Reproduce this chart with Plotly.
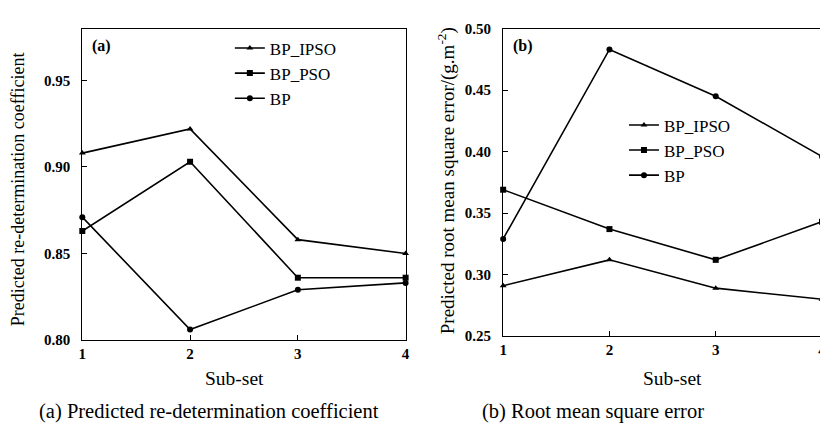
import plotly.graph_objects as go

subsets = [1, 2, 3, 4]

# Panel (a): predicted re-determination coefficient
r2_ipso = [0.908, 0.922, 0.858, 0.850]
r2_pso = [0.863, 0.903, 0.836, 0.836]
r2_bp = [0.871, 0.806, 0.829, 0.833]

# Panel (b): root mean square error
rmse_ipso = [0.291, 0.312, 0.289, 0.280]
rmse_pso = [0.369, 0.337, 0.312, 0.343]
rmse_bp = [0.329, 0.483, 0.445, 0.396]

series_names = ["BP_IPSO", "BP_PSO", "BP"]
symbols = ["triangle-up", "square", "circle"]

left_ticks = [0.80, 0.85, 0.90, 0.95]
right_ticks = [0.25, 0.30, 0.35, 0.40, 0.45, 0.50]

# the page shows the figure shifted 8px to the right
XOFF = 8
W, H = 828 - XOFF, 424
FONT = "Liberation Serif, 'Times New Roman', Times, serif"


def px(x):
    return (x - XOFF) / W


def py(y):
    return 1 - y / H


fig = go.Figure()

for name, sym, vals in zip(series_names, symbols, [r2_ipso, r2_pso, r2_bp]):
    fig.add_trace(go.Scatter(
        x=subsets, y=vals, name=name, mode="lines+markers",
        line=dict(color="black", width=1.6),
        marker=dict(symbol=sym, size=6, color="black"),
        cliponaxis=False, xaxis="x", yaxis="y", legend="legend",
    ))

for name, sym, vals in zip(series_names, symbols, [rmse_ipso, rmse_pso, rmse_bp]):
    fig.add_trace(go.Scatter(
        x=subsets, y=vals, name=name, mode="lines+markers",
        line=dict(color="black", width=1.6),
        marker=dict(symbol=sym, size=6, color="black"),
        cliponaxis=False, xaxis="x2", yaxis="y2", legend="legend2",
    ))

tickfont = dict(family=FONT, size=15, color="black", weight="bold")
axis_common = dict(
    showline=True, mirror=True, linecolor="black", linewidth=1.2,
    ticks="inside", ticklen=5, tickcolor="black", showgrid=False,
    zeroline=False, tickfont=tickfont,
)

legend_font = dict(family=FONT, size=17, color="black")

fig.update_layout(
    width=W, height=H,
    margin=dict(l=0, r=0, t=0, b=0),
    paper_bgcolor="white", plot_bgcolor="white",
    font=dict(family=FONT, color="black"),
    xaxis=dict(domain=[px(79), px(405.5)], range=[1, 4], tickvals=subsets,
               anchor="y", **axis_common),
    yaxis=dict(domain=[py(336.7), py(13)], range=[0.80, 0.98],
               tickvals=left_ticks, tickformat=".2f", anchor="x",
               ticklabelstandoff=8, **axis_common),
    xaxis2=dict(domain=[px(504), px(826)], range=[1, 4], tickvals=subsets,
                anchor="y2", **axis_common),
    yaxis2=dict(domain=[py(332.7), py(13)], range=[0.25, 0.50],
                tickvals=right_ticks, tickformat=".2f", anchor="x2",
                ticklabelstandoff=8, **axis_common),
    legend=dict(x=px(228), y=py(15), xanchor="left", yanchor="top",
                bgcolor="rgba(0,0,0,0)", font=legend_font,
                tracegroupgap=0, itemwidth=30),
    legend2=dict(x=px(626), y=py(95), xanchor="left", yanchor="top",
                 bgcolor="rgba(0,0,0,0)", font=legend_font,
                 tracegroupgap=0, itemwidth=30),
    showlegend=True,
)

annotations = [
    dict(text="<b>(a)</b>", x=px(87), y=py(31), xanchor="left", yanchor="middle",
         font=dict(size=16)),
    dict(text="<b>(b)</b>", x=px(512), y=py(31), xanchor="left", yanchor="middle",
         font=dict(size=16)),
    dict(text="Sub-set", x=px(233), y=py(377), xanchor="center", yanchor="middle",
         font=dict(size=19.5)),
    dict(text="Sub-set", x=px(675), y=py(377), xanchor="center", yanchor="middle",
         font=dict(size=19.5)),
    dict(text="(a) Predicted re-determination coefficient", x=px(207), y=py(411),
         xanchor="center", yanchor="middle", font=dict(size=20.5)),
    dict(text="(b) Root mean square error", x=px(595), y=py(411),
         xanchor="center", yanchor="middle", font=dict(size=20.5)),
    dict(text="Predicted re-determination coefficient", x=px(14), y=py(180),
         xanchor="center", yanchor="middle", textangle=-90, font=dict(size=18)),
    dict(text="Predicted root mean square error/(g.m<sup>-2</sup>)", x=px(447), y=py(171),
         xanchor="center", yanchor="middle", textangle=-90, font=dict(size=19)),
]
for a in annotations:
    a.update(xref="paper", yref="paper", showarrow=False)
    a["font"].update(family=FONT, color="black")
fig.update_layout(annotations=annotations)

fig.write_html("out.html")
